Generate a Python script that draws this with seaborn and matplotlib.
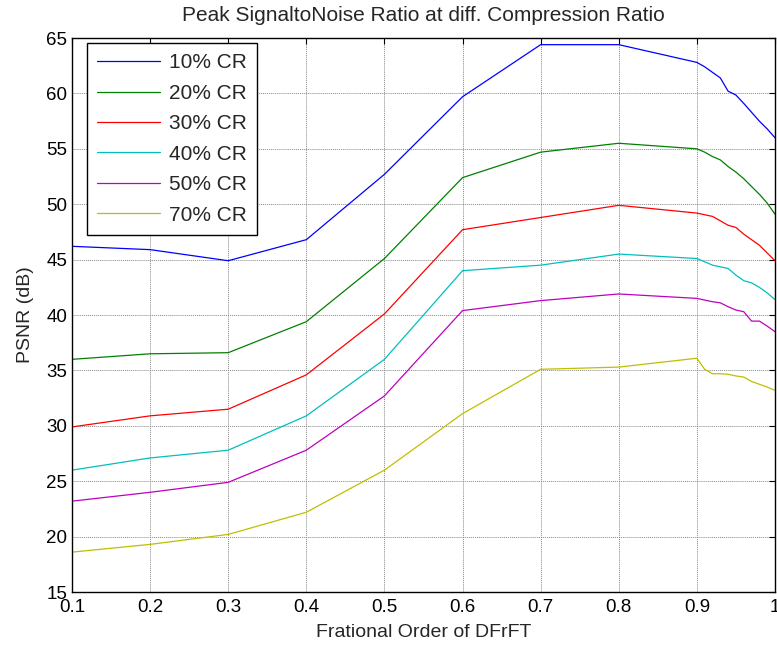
import numpy as np
import pandas as pd
import matplotlib
matplotlib.use("Agg")
import matplotlib.pyplot as plt
import seaborn as sns

# fractional orders: coarse steps up to 0.9, then fine steps to 1.0
orders = [0.1, 0.2, 0.3, 0.4, 0.5, 0.6, 0.7, 0.8, 0.9,
          0.91, 0.92, 0.93, 0.94, 0.95, 0.96, 0.97, 0.98, 0.99, 1.0]

psnr_10 = [46.2, 45.9, 44.9, 46.8, 52.7, 59.7, 64.4, 64.4, 62.8,
           62.4, 61.9, 61.4, 60.2, 59.85, 59.1, 58.3, 57.5, 56.8, 56.0]
psnr_20 = [36.0, 36.5, 36.6, 39.4, 45.1, 52.4, 54.7, 55.5, 55.0,
           54.7, 54.3, 54.0, 53.4, 52.9, 52.3, 51.6, 50.9, 50.1, 49.1]
psnr_30 = [29.9, 30.9, 31.5, 34.6, 40.1, 47.7, 48.8, 49.9, 49.2,
           49.05, 48.9, 48.5, 48.1, 47.9, 47.3, 46.8, 46.3, 45.6, 44.9]
psnr_40 = [26.0, 27.1, 27.8, 30.9, 36.0, 44.0, 44.5, 45.5, 45.1,
           44.8, 44.5, 44.35, 44.2, 43.6, 43.1, 42.9, 42.5, 42.0, 41.4]
psnr_50 = [23.2, 24.0, 24.9, 27.8, 32.7, 40.4, 41.3, 41.9, 41.5,
           41.35, 41.2, 41.1, 40.75, 40.45, 40.3, 39.45, 39.45, 39.0, 38.5]
psnr_70 = [18.6, 19.3, 20.2, 22.2, 26.0, 31.1, 35.1, 35.3, 36.1,
           35.1, 34.7, 34.7, 34.65, 34.5, 34.4, 34.0, 33.75, 33.5, 33.2]

labels = ["10% CR", "20% CR", "30% CR", "40% CR", "50% CR", "70% CR"]
colors = ["#0000ff", "#008000", "#ff0000", "#00bfbf", "#bf00bf", "#bfbf00"]

# long format for seaborn
frames = []
for lab, vals in zip(labels, [psnr_10, psnr_20, psnr_30, psnr_40, psnr_50, psnr_70]):
    frames.append(pd.DataFrame({"order": orders, "psnr": vals, "cr": lab}))
df = pd.concat(frames, ignore_index=True)

sns.set_style("white")
plt.rcParams["font.family"] = ["Liberation Sans", "DejaVu Sans"]

fig = plt.figure(figsize=(7.77, 6.52), dpi=100)
ax = fig.add_axes([0.0927, 0.092, 0.9047, 0.8497])

sns.lineplot(data=df, x="order", y="psnr", hue="cr", palette=colors,
             linewidth=0.9, ax=ax, sort=False, estimator=None)

ax.set_xlim(0.1, 1.0)
ax.set_ylim(15, 65)
ax.set_xticks(np.arange(0.1, 1.01, 0.1))
ax.set_xticklabels(["0.1", "0.2", "0.3", "0.4", "0.5", "0.6", "0.7", "0.8", "0.9", "1"])
ax.set_yticks(range(15, 66, 5))

# matlab-like grid and ticks
ax.grid(True, color="#888888", linestyle=(0, (1, 1)), linewidth=0.7)
ax.tick_params(direction="in", top=True, right=True, length=4, width=0.8,
               labelsize=13.5, colors="black")
ax.tick_params(axis="x", pad=5)
for s in ax.spines.values():
    s.set_color("black")
    s.set_linewidth(1.0)

ax.set_title("Peak SignaltoNoise Ratio at diff. Compression Ratio", fontsize=15, pad=12)
ax.set_xlabel("Frational Order of DFrFT", fontsize=14, labelpad=6)
ax.set_ylabel("PSNR (dB)", fontsize=14, labelpad=9)

leg = ax.legend(loc="upper left", bbox_to_anchor=(0.021, 0.991), borderaxespad=0,
                fontsize=15, frameon=True, fancybox=False, edgecolor="black",
                handlelength=3.0, handletextpad=0.45, labelspacing=0.55,
                borderpad=0.5, framealpha=1)
leg.get_frame().set_linewidth(1.0)

fig.savefig("out.png", dpi=100)
